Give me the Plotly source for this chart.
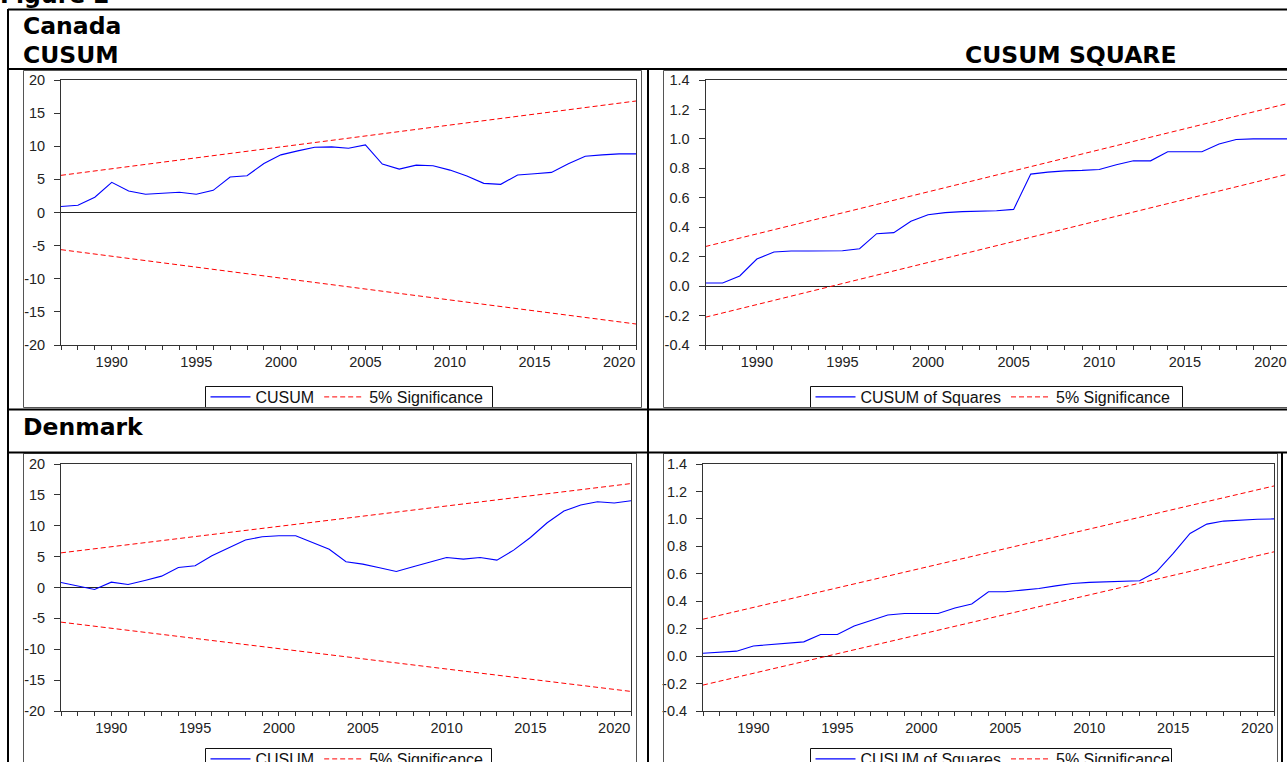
import plotly.graph_objects as go

# ---------------- data ----------------
years = list(range(1987, 2022))

canada_cusum = [0.9, 1.1, 2.3, 4.55, 3.25, 2.75, 2.9, 3.05, 2.75, 3.35, 5.35, 5.55,
                7.4, 8.7, 9.3, 9.85, 9.9, 9.7, 10.2, 7.3, 6.55, 7.15, 7.05, 6.4,
                5.5, 4.4, 4.25, 5.65, 5.85, 6.05, 7.35, 8.5, 8.7, 8.85, 8.85]
canada_cusumsq = [0.021, 0.021, 0.069, 0.184, 0.232, 0.238, 0.238, 0.238, 0.24, 0.254,
                  0.356, 0.363, 0.44, 0.485, 0.499, 0.506, 0.509, 0.512, 0.521, 0.761,
                  0.774, 0.783, 0.786, 0.792, 0.824, 0.851, 0.851, 0.913, 0.913, 0.913,
                  0.965, 0.996, 1.0, 1.0, 1.0]
denmark_cusum = [0.81, 0.27, -0.32, 0.86, 0.49, 1.14, 1.84, 3.24, 3.51, 5.14, 6.43, 7.68,
                 8.22, 8.38, 8.38, 7.24, 6.2, 4.16, 3.78, 3.19, 2.59, 3.35, 4.16, 4.86,
                 4.59, 4.86, 4.43, 6.05, 8.1, 10.49, 12.38, 13.35, 13.89, 13.68, 14.05]
denmark_cusumsq = [0.021, 0.031, 0.036, 0.074, 0.084, 0.091, 0.104, 0.157, 0.157, 0.22,
                   0.26, 0.30, 0.31, 0.31, 0.31, 0.35, 0.38, 0.469, 0.469, 0.481, 0.493,
                   0.512, 0.529, 0.537, 0.541, 0.541, 0.549, 0.614, 0.748, 0.894, 0.962,
                   0.984, 0.992, 0.997, 1.0]

bound_years = [1987, 2021]
cusum_upper = [5.61, 16.83]
cusum_lower = [-5.61, -16.83]
cusumsq_upper = [0.269, 1.24]
cusumsq_lower = [-0.211, 0.76]

cusum_tickvals = [20, 15, 10, 5, 0, -5, -10, -15, -20]
cusum_ticktext = ["20", "15", "10", "5", "0", "-5", "-10", "-15", "-20"]
sq_tickvals = [1.4, 1.2, 1.0, 0.8, 0.6, 0.4, 0.2, 0.0, -0.2, -0.4]
sq_ticktext = ["1.4", "1.2", "1.0", "0.8", "0.6", "0.4", "0.2", "0.0", "-0.2", "-0.4"]

# ---------------- geometry helpers ----------------
W, H = 1287, 762


def px(x):
    return x / W


def py(y):
    return 1 - y / H


TICKFONT = dict(family="Liberation Sans, Arial, sans-serif", size=14.5, color="#222")
LEGFONT = dict(family="Liberation Sans, Arial, sans-serif", size=16, color="#111")
AXCOL = "#333"

fig = go.Figure()

panels = [
    # (axis suffix, series, name, kind, x0, x1, ytop, ybot, xend, legend, legend box)
    ("", canada_cusum, "CUSUM", "cusum", 61, 636, 80, 345, 2021, "legend",
     (205.5, 386.5, 492.5, 407.5)),
    ("2", canada_cusumsq, "CUSUM of Squares", "sq", 705.5, 1287, 80, 345, 2020.97, "legend2",
     (810.5, 386.5, 1182.5, 407.5)),
    ("3", denmark_cusum, "CUSUM", "cusum", 61, 631, 464, 711, 2021, "legend3",
     (205.5, 748.5, 491.5, 780)),
    ("4", denmark_cusumsq, "CUSUM of Squares", "sq", 703, 1274, 464, 711, 2021, "legend4",
     (810.5, 748.5, 1171.5, 780)),
]

shapes = []
layout_updates = {}
for suf, series, name, kind, x0, x1, yt, yb, xend, leg, box in panels:
    xa = "x" + suf
    ya = "y" + suf
    up = cusum_upper if kind == "cusum" else cusumsq_upper
    lo = cusum_lower if kind == "cusum" else cusumsq_lower
    fig.add_trace(go.Scatter(x=years, y=series, mode="lines", name=name,
                             line=dict(color="#0000FF", width=1.1),
                             xaxis=xa, yaxis=ya, legend=leg))
    fig.add_trace(go.Scatter(x=bound_years, y=up, mode="lines", name="5% Significance",
                             line=dict(color="#FF0000", width=1, dash="5px,3px"),
                             xaxis=xa, yaxis=ya, legend=leg))
    fig.add_trace(go.Scatter(x=bound_years, y=lo, mode="lines", name="5% Significance",
                             line=dict(color="#FF0000", width=1, dash="5px,3px"),
                             xaxis=xa, yaxis=ya, legend=leg, showlegend=False))
    layout_updates["xaxis" + suf] = dict(
        domain=[px(x0), px(x1)], range=[1987, xend], anchor=ya, automargin=False,
        tickmode="linear", tick0=1990, dtick=5,
        ticks="outside", ticklen=4, tickwidth=1, tickcolor=AXCOL,
        minor=dict(tickmode="linear", tick0=1987, dtick=1, ticks="outside",
                   ticklen=4, tickwidth=1, tickcolor=AXCOL),
        showline=True, linecolor=AXCOL, linewidth=1, mirror=True,
        showgrid=False, zeroline=False, tickfont=TICKFONT, fixedrange=True,
    )
    layout_updates["yaxis" + suf] = dict(
        domain=[py(yb), py(yt)], anchor=xa, automargin=False,
        range=[-20, 20] if kind == "cusum" else [-0.4, 1.4],
        tickmode="array",
        tickvals=cusum_tickvals if kind == "cusum" else sq_tickvals,
        ticktext=cusum_ticktext if kind == "cusum" else sq_ticktext,
        ticks="outside", ticklen=6, tickwidth=1, tickcolor=AXCOL,
        ticklabelstandoff=6,
        showline=True, linecolor=AXCOL, linewidth=1, mirror=(suf != "2"),
        showgrid=False, zeroline=True, zerolinecolor="#222", zerolinewidth=1,
        tickfont=TICKFONT, fixedrange=True,
    )
    bx0, by0, bx1, by1 = box
    layout_updates[leg] = dict(
        orientation="h", x=px(bx0), xanchor="left",
        y=py((by0 + min(by1, by0 + 21)) / 2), yanchor="middle",
        bgcolor="rgba(0,0,0,0)", borderwidth=0, font=LEGFONT,
        itemwidth=40, itemclick=False, itemdoubleclick=False, traceorder="normal",
    )
    # legend frame
    shapes.append(dict(type="rect", xref="paper", yref="paper",
                       x0=px(bx0), y0=py(by0), x1=px(bx1), y1=py(by1),
                       line=dict(color="#111", width=1), fillcolor="white", layer="below"))


# ---------------- table lines and image frames ----------------
def line(x0, y0, x1, y1, color="#000", width=2):
    shapes.append(dict(type="line", xref="paper", yref="paper",
                       x0=px(x0), y0=py(y0), x1=px(x1), y1=py(y1),
                       line=dict(color=color, width=width)))


FR = "#555"
for (fx0, fy0, fx1, fy1) in [(23.5, 70.5, 641.5, 407.5), (663.5, 70.5, 1300, 407.5),
                             (23.5, 453.5, 636.5, 800), (663.5, 453.5, 1277.5, 800)]:
    shapes.append(dict(type="rect", xref="paper", yref="paper",
                       x0=px(fx0), y0=py(fy0), x1=px(fx1), y1=py(fy1),
                       line=dict(color=FR, width=1), fillcolor="rgba(0,0,0,0)"))

line(8, 9.5, 1290, 9.5)
line(8, 9, 8, 770)
line(8, 69, 1290, 69)
line(648, 69, 648, 770)
line(8, 409.5, 1290, 409.5)
line(8, 452.5, 1290, 452.5)
line(1282, 452, 1282, 770)

# ---------------- header texts ----------------
HFONT = dict(family="DejaVu Sans, Verdana, sans-serif", size=23.5, color="#000")
annotations = []


def label(text, x, ycenter, anchor="left"):
    annotations.append(dict(text="<b>" + text + "</b>", xref="paper", yref="paper",
                            x=px(x), y=py(ycenter), xanchor=anchor, yanchor="middle",
                            showarrow=False, font=HFONT, xshift=-1))


label("Figure 2", -1, -4.7)
label("Canada", 21.5, 26.5)
label("CUSUM", 21.5, 55)
label("CUSUM SQUARE", 964, 55)
label("Denmark", 22, 427)

fig.update_layout(
    width=W, height=H, margin=dict(l=0, r=0, t=0, b=0, pad=0, autoexpand=False),
    paper_bgcolor="white", plot_bgcolor="white",
    shapes=shapes, annotations=annotations, showlegend=True,
    **layout_updates,
)

fig.write_html("out.html", config={"displayModeBar": False},
               post_script="document.body.style.margin='0px';"
                           "document.body.style.overflow='hidden';")
